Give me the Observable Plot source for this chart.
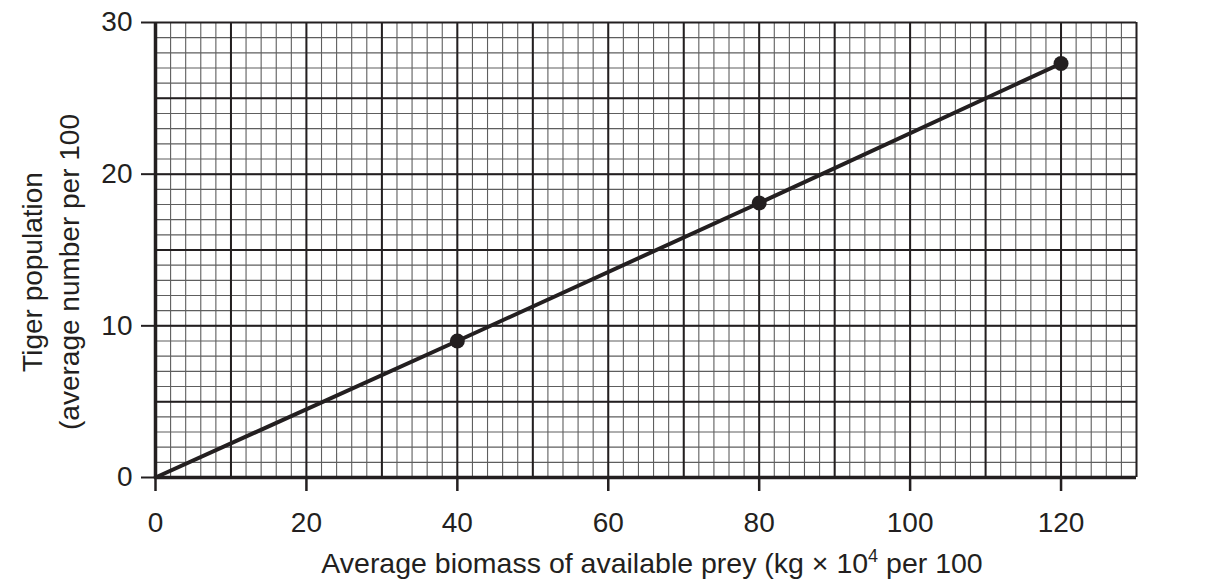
<!DOCTYPE html>
<html>
<head>
<meta charset="utf-8">
<script src="https://cdn.jsdelivr.net/npm/d3@7"></script>
<script src="https://cdn.jsdelivr.net/npm/@observablehq/plot@0.6"></script>
<style>
  html, body { margin: 0; padding: 0; background: #ffffff; }
  svg { display: block; }
</style>
</head>
<body>
<script>
// Tiger population against prey biomass
const biomass = [40, 80, 120];        // kg × 10^4 per 100 km²
const tigers = [9.0, 18.1, 27.3];     // average number per 100 km²
const origin = {biomass: 0, tigers: 0};

const xTicks = [0, 20, 40, 60, 80, 100, 120];
const yTicks = [0, 10, 20, 30];
const xDomain = [0, 130];
const yDomain = [0, 30];

// graph-paper spacing (minor / major)
const xMinorStep = 2, xMajorStep = 10;
const yMinorStep = 1, yMajorStep = 5;

const xTitleParts = ["Average biomass of available prey (kg × 10", "4", " per 100"];
const yTitle = "Tiger population\n(average number per 100";

const points = biomass.map((b, i) => ({biomass: b, tigers: tigers[i]}));
const lineData = [origin, ...points];

const ink = "#231f20";
const xTitle = xTitleParts.join("");

const chart = Plot.plot({
  width: 1206,
  height: 579,
  marginLeft: 155,
  marginRight: 70,
  marginTop: 22,
  marginBottom: 102,
  style: {fontFamily: "'Liberation Sans', Arial, Helvetica, sans-serif", fontSize: "28px", color: ink, background: "#ffffff"},
  x: {domain: xDomain, axis: null},
  y: {domain: yDomain, axis: null},
  marks: [
    // minor grid
    Plot.ruleX(d3.range(xDomain[0], xDomain[1] + 1e-9, xMinorStep), {stroke: "#5e5e5e", strokeWidth: 1.1}),
    Plot.ruleY(d3.range(yDomain[0], yDomain[1] + 1e-9, yMinorStep), {stroke: "#5e5e5e", strokeWidth: 1.1}),
    // major grid
    Plot.ruleX(d3.range(xDomain[0], xDomain[1] + 1e-9, xMajorStep), {stroke: ink, strokeWidth: 2}),
    Plot.ruleY(d3.range(yDomain[0], yDomain[1] + 1e-9, yMajorStep), {stroke: ink, strokeWidth: 2}),
    // axes
    Plot.axisX(xTicks, {tickSize: 14, tickPadding: 21, stroke: ink, strokeWidth: 2.5, fill: ink, fontSize: 28, label: null}),
    Plot.axisY(yTicks, {tickSize: 14, tickPadding: 9, stroke: ink, strokeWidth: 2, fill: ink, fontSize: 28, label: null}),
    Plot.ruleX([0], {stroke: ink, strokeWidth: 3.5}),
    Plot.ruleY([0], {stroke: ink, strokeWidth: 3.5}),
    // data
    Plot.line(lineData, {x: "biomass", y: "tigers", stroke: ink, strokeWidth: 4}),
    Plot.dot(points, {x: "biomass", y: "tigers", r: 7.5, fill: ink, stroke: "none"}),
    // axis titles
    Plot.text([xTitle], {frameAnchor: "bottom", text: d => d, dy: 86, dx: 6, fontSize: 28.5, fill: ink, textAnchor: "middle", lineAnchor: "middle"}),
    Plot.text([yTitle], {frameAnchor: "left", text: d => d, rotate: -90, dx: -107, dy: 22, fontSize: 28, fill: ink, textAnchor: "middle", lineAnchor: "middle", lineHeight: 1.32})
  ]
});

// superscript exponent in the x-axis title
d3.select(chart).selectAll("text")
  .filter(function () { return this.textContent === xTitle; })
  .each(function () {
    const t = d3.select(this);
    t.text(null);
    t.append("tspan").text(xTitleParts[0]);
    t.append("tspan").attr("font-size", 18).attr("dy", -11).text(xTitleParts[1]);
    t.append("tspan").attr("dy", 11).text(xTitleParts[2]);
  });

document.body.appendChild(chart);
</script>
</body>
</html>
